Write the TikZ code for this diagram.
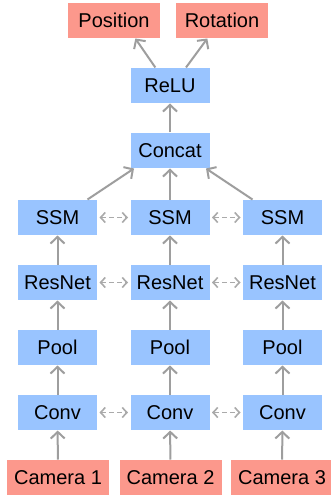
\documentclass[tikz,border=0pt]{standalone}
\usepackage{fontspec}
\setmainfont{Liberation Sans}
\usetikzlibrary{arrows.meta}

\definecolor{blkblue}{RGB}{153,196,255}
\definecolor{outred}{RGB}{252,152,140}
\definecolor{arrgray}{RGB}{158,158,158}
\definecolor{dashgray}{RGB}{170,170,170}

\tikzset{every picture/.style={line width=0.75pt}}
\tikzset{
  blk/.style={fill=blkblue, draw=none, inner sep=0pt, minimum width=59.25pt, minimum height=26.25pt, font=\fontsize{15}{16}\selectfont},
  outbox/.style={fill=outred, draw=none, inner sep=0pt, minimum height=26.25pt, font=\fontsize{15}{16}\selectfont},
  arr/.style={draw=arrgray, line width=1.5pt, -{Straight Barb[length=5pt,width=10.5pt]}},
  dasharr/.style={draw=dashgray, line width=1.2pt, dash pattern=on 3.5pt off 2.5pt, {Straight Barb[length=3.5pt,width=7.5pt]}-{Straight Barb[length=3.5pt,width=7.5pt]}, shorten >=1.5pt, shorten <=1.5pt}
}

\begin{document}
\begin{tikzpicture}[x=0.75pt,y=0.75pt,yscale=-1,xscale=1]
\path[use as bounding box] (0,0) rectangle (331,495);

% Outputs
\node [outbox, minimum width=69pt] (pos) at (114,20.5) {Position};
\node [outbox, minimum width=69pt] (rot) at (222,20.5) {Rotation};
% Head
\node [blk] (relu) at (170,85.5) {ReLU};
\node [blk] (concat) at (170,150.5) {Concat};
% Column 1
\node [blk] (ssmA) at (57.5,217.5) {SSM};
\node [blk] (resA) at (57.5,282.5) {ResNet};
\node [blk] (poolA) at (57.5,347.5) {Pool};
\node [blk] (convA) at (57.5,412.5) {Conv};
\node [outbox, minimum width=76.5pt] (camA) at (58,477.5) {Camera 1};
% Column 2
\node [blk] (ssmB) at (170,217.5) {SSM};
\node [blk] (resB) at (170,282.5) {ResNet};
\node [blk] (poolB) at (170,347.5) {Pool};
\node [blk] (convB) at (170,412.5) {Conv};
\node [outbox, minimum width=76.5pt] (camB) at (170.5,477.5) {Camera 2};
% Column 3
\node [blk] (ssmC) at (282.5,217.5) {SSM};
\node [blk] (resC) at (282.5,282.5) {ResNet};
\node [blk] (poolC) at (282.5,347.5) {Pool};
\node [blk] (convC) at (282.5,412.5) {Conv};
\node [outbox, minimum width=76.5pt] (camC) at (282,477.5) {Camera 3};

% Upward arrows
\foreach \c in {A,B,C}{
  \draw [arr] (cam\c) -- (conv\c);
  \draw [arr] (conv\c) -- (pool\c);
  \draw [arr] (pool\c) -- (res\c);
  \draw [arr] (res\c) -- (ssm\c);
}
\draw [arr] (ssmB) -- (concat);
\draw [arr] ([xshift=-7.5pt]ssmA.north east) -- ([xshift=3pt]concat.south west);
\draw [arr] ([xshift=7.5pt]ssmC.north west) -- ([xshift=-3pt]concat.south east);
\draw [arr] (concat) -- (relu);
\draw [arr] ([xshift=-11pt]relu.north) -- ([xshift=16pt]pos.south);
\draw [arr] ([xshift=12pt]relu.north) -- ([xshift=-11pt]rot.south);

% Dashed links
\foreach \r in {ssm,res,conv}{
  \draw [dasharr] (\r A) -- (\r B);
  \draw [dasharr] (\r B) -- (\r C);
}

\end{tikzpicture}
\end{document}
